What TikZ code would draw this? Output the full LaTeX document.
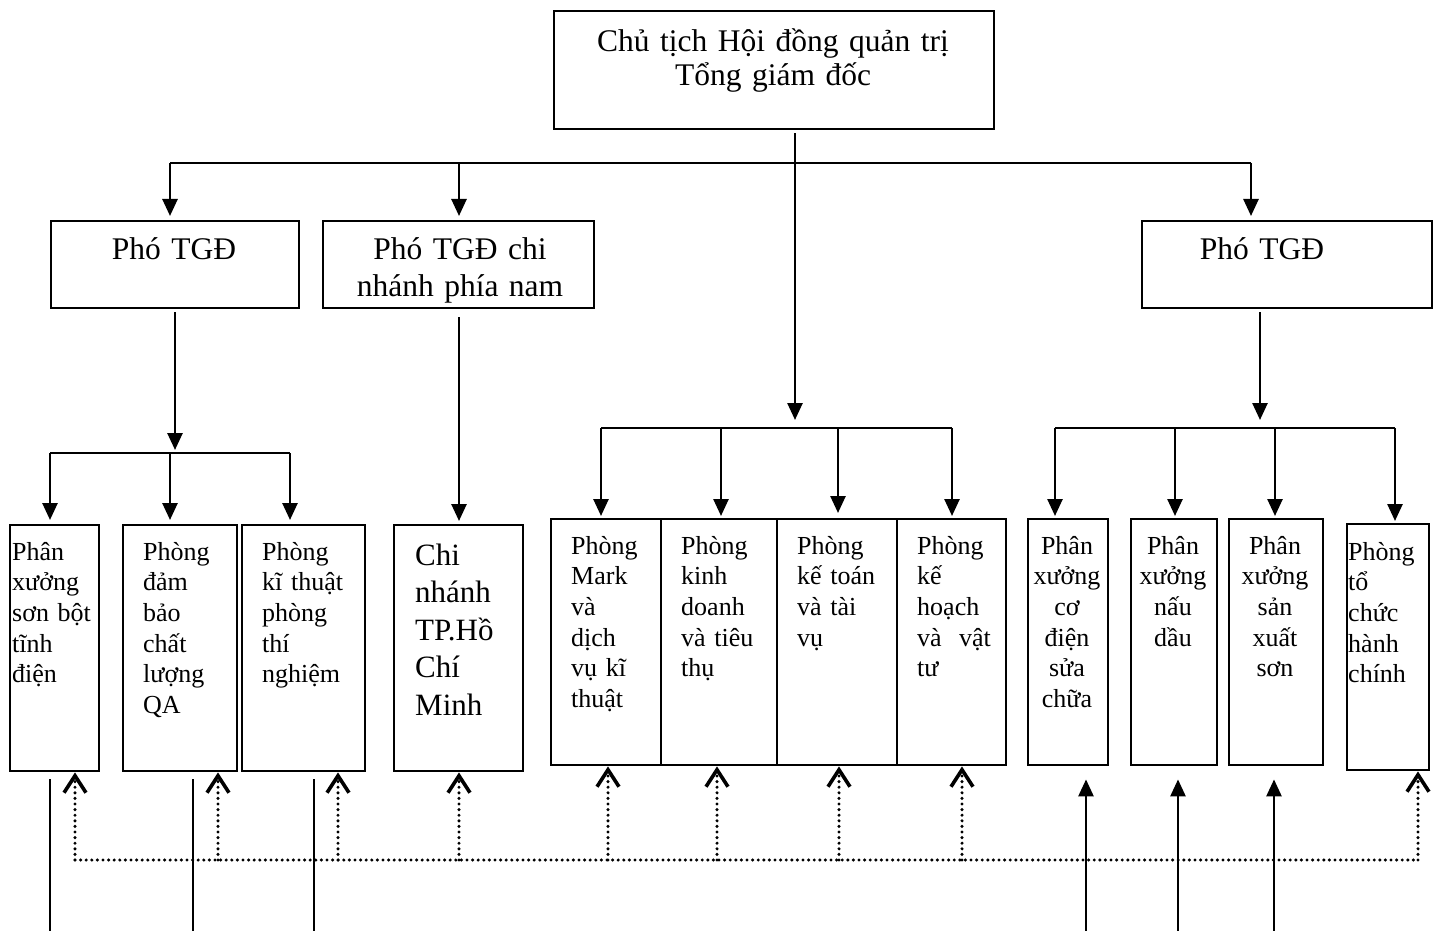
\documentclass[tikz,border=0pt]{standalone}
\usepackage{fontspec}
\setmainfont{Liberation Serif}
\usetikzlibrary{arrows.meta}
\begin{document}
\begin{tikzpicture}[x=1pt,y=-1pt,
  box/.style={draw, line width=2.4pt, inner sep=0pt, anchor=north west},
  conn/.style={line width=2.6pt},
  arrdown/.style={conn, -{Triangle[length=17pt,width=15pt]}},
  dotline/.style={line width=3.4pt, line cap=round, dash pattern=on 0pt off 5.6pt},
  dotarrow/.style={dotline, -{Straight Barb[length=17pt,width=22pt,line width=3.6pt]}},
  big/.style={font=\fontsize{31.5}{34}\selectfont},
  mid/.style={font=\fontsize{31}{37.5}\selectfont},
  small/.style={font=\fontsize{26}{30.7}\selectfont},
  txtl/.style={inner sep=0pt, text width=#1, align=left, anchor=base west},
  txtc/.style={inner sep=0pt, text width=#1, align=center, anchor=base},
]
\useasboundingbox[fill=white] (0,0) rectangle (1436,931);

% ---- top level ----
\node[box, minimum width=440pt, minimum height=118pt] (top) at (553,10) {};
\node[txtc=440pt, big] (ttop) at (773,52) {Chủ tịch Hội đồng quản trị\\Tổng giám đốc};

% ---- deputies ----
\node[box, minimum width=248pt, minimum height=87pt] (pL) at (50,220) {};
\node[txtc=248pt, big] (tpL) at (174,259) {Phó TGĐ};
\node[box, minimum width=271pt, minimum height=87pt] (pM) at (322,220) {};
\node[txtc=271pt, font=\fontsize{31.5}{37}\selectfont] (tpM) at (460,259) {Phó TGĐ chi\\nhánh phía nam};
\node[box, minimum width=290pt, minimum height=87pt] (pR) at (1141,220) {};
\node[txtc=290pt, big] (tpR) at (1262,259) {Phó TGĐ};

% ---- departments ----
\node[box, minimum width=89pt,  minimum height=246pt] (b1) at (9,524) {};
\node[box, minimum width=114pt, minimum height=246pt] (b2) at (122,524) {};
\node[box, minimum width=123pt, minimum height=246pt] (b3) at (241,524) {};
\node[box, minimum width=129pt, minimum height=246pt] (b4) at (393,524) {};
\node[box, minimum width=110pt, minimum height=246pt] (b5) at (550,518) {};
\node[box, minimum width=116pt, minimum height=246pt] (b6) at (660,518) {};
\node[box, minimum width=120pt, minimum height=246pt] (b7) at (776,518) {};
\node[box, minimum width=109pt, minimum height=246pt] (b8) at (896,518) {};
\node[box, minimum width=80pt,  minimum height=246pt] (b9) at (1027,518) {};
\node[box, minimum width=86pt,  minimum height=246pt] (b10) at (1130,518) {};
\node[box, minimum width=94pt,  minimum height=246pt] (b11) at (1228,518) {};
\node[box, minimum width=82pt,  minimum height=246pt] (b12) at (1346,523) {};

\node[txtl=120pt, small] (t1) at (12,560) {Phân\\xưởng\\sơn bột\\tĩnh\\điện};
\node[txtl=120pt, small] (t2) at (143,560) {Phòng\\đảm\\bảo\\chất\\lượng\\QA};
\node[txtl=120pt, small] (t3) at (262,560) {Phòng\\kĩ thuật\\phòng\\thí\\nghiệm};
\node[txtl=120pt, mid] (t4) at (415,565) {Chi\\nhánh\\TP.Hồ\\Chí\\Minh};
\node[txtl=120pt, small] (t5) at (571,554) {Phòng\\Mark\\và\\dịch\\vụ kĩ\\thuật};
\node[txtl=120pt, small] (t6) at (681,554) {Phòng\\kinh\\doanh\\và tiêu\\thụ};
\node[txtl=120pt, small] (t7) at (797,554) {Phòng\\kế toán\\và tài\\vụ};
\node[txtl=120pt, small] (t8) at (917,554) {Phòng\\kế\\hoạch\\và\ \ vật\\tư};
\node[txtc=100pt, small] (t9) at (1067,554) {Phân\\xưởng\\cơ\\điện\\sửa\\chữa};
\node[txtc=100pt, small] (t10) at (1173,554) {Phân\\xưởng\\nấu\\dầu};
\node[txtc=100pt, small] (t11) at (1275,554) {Phân\\xưởng\\sản\\xuất\\sơn};
\node[txtl=120pt, small] (t12) at (1348,560) {Phòng\\tổ\\chức\\hành\\chính};

% ---- top distribution bus ----
\coordinate (tb1) at (170,163);
\coordinate (tb2) at (459,163);
\coordinate (tb3) at (1251,163);
\coordinate (tm)  at (795,163);
\coordinate (mbus) at (795,428);
\draw[conn] (tb1) -- (tb3);
\draw[arrdown, shorten >=4pt] (tb1) -- (tb1 |- pL.north);
\draw[arrdown, shorten >=4pt] (tb2) -- (tb2 |- pM.north);
\draw[arrdown, shorten >=4pt] (tb3) -- (tb3 |- pR.north);
\draw[arrdown, shorten >=8pt, shorten <=3pt] (top.south -| tm) -- (mbus);

% ---- left deputy ----
\coordinate (lb)  at (175,453);
\coordinate (lb1) at (50,453);
\coordinate (lb2) at (170,453);
\coordinate (lb3) at (290,453);
\draw[arrdown, shorten <=3pt, shorten >=3pt] (pL.south -| lb) -- (lb);
\draw[conn] (lb1) -- (lb3);
\draw[arrdown, shorten >=4pt] (lb1) -- (lb1 |- b1.north);
\draw[arrdown, shorten >=4pt] (lb2) -- (lb2 |- b2.north);
\draw[arrdown, shorten >=4pt] (lb3) -- (lb3 |- b3.north);

% ---- southern branch ----
\coordinate (mx) at (459,300);
\draw[arrdown, shorten <=8pt, shorten >=3pt] (pM.south -| mx) -- (mx |- b4.north);

% ---- central offices ----
\coordinate (cb1) at (601,428);
\coordinate (cb2) at (721,428);
\coordinate (cb3) at (838,428);
\coordinate (cb4) at (952,428);
\draw[conn] (cb1) -- (cb4);
\draw[arrdown, shorten >=2pt] (cb1) -- (cb1 |- b5.north);
\draw[arrdown, shorten >=2pt] (cb2) -- (cb2 |- b6.north);
\draw[arrdown, shorten >=5pt] (cb3) -- (cb3 |- b7.north);
\draw[arrdown, shorten >=2pt] (cb4) -- (cb4 |- b8.north);

% ---- right deputy ----
\coordinate (rb)  at (1260,428);
\coordinate (rb1) at (1055,428);
\coordinate (rb2) at (1175,428);
\coordinate (rb3) at (1275,428);
\coordinate (rb4) at (1395,428);
\draw[arrdown, shorten <=3pt, shorten >=8pt] (pR.south -| rb) -- (rb);
\draw[conn] (rb1) -- (rb4);
\draw[arrdown, shorten >=2pt] (rb1) -- (rb1 |- b9.north);
\draw[arrdown, shorten >=2pt] (rb2) -- (rb2 |- b10.north);
\draw[arrdown, shorten >=2pt] (rb3) -- (rb3 |- b11.north);
\draw[arrdown, shorten >=2pt] (rb4) -- (rb4 |- b12.north);

% ---- outgoing lines below workshops ----
\coordinate (o1) at (50,931);
\coordinate (o2) at (193,931);
\coordinate (o3) at (314,931);
\draw[conn, shorten <=7pt] (b1.south -| o1) -- (o1);
\draw[conn, shorten <=7pt] (b2.south -| o2) -- (o2);
\draw[conn, shorten <=7pt] (b3.south -| o3) -- (o3);

% ---- incoming lines into production workshops ----
\coordinate (i1) at (1086,931);
\coordinate (i2) at (1178,931);
\coordinate (i3) at (1274,931);
\draw[arrdown, shorten >=13pt] (i1) -- (i1 |- b9.south);
\draw[arrdown, shorten >=13pt] (i2) -- (i2 |- b10.south);
\draw[arrdown, shorten >=13pt] (i3) -- (i3 |- b11.south);

% ---- dotted coordination bus ----
\coordinate (d1) at (75,860);
\coordinate (d2) at (218,860);
\coordinate (d3) at (338,860);
\coordinate (d4) at (459,860);
\coordinate (d5) at (608,860);
\coordinate (d6) at (717,860);
\coordinate (d7) at (839,860);
\coordinate (d8) at (962,860);
\coordinate (d9) at (1418,860);
\draw[dotline] (d1) -- (d9);
\draw[dotarrow] (d1) -- (d1 |- b1.south);
\draw[dotarrow] (d2) -- (d2 |- b2.south);
\draw[dotarrow] (d3) -- (d3 |- b3.south);
\draw[dotarrow] (d4) -- (d4 |- b4.south);
\draw[dotarrow] (d5) -- (d5 |- b5.south);
\draw[dotarrow] (d6) -- (d6 |- b6.south);
\draw[dotarrow] (d7) -- (d7 |- b7.south);
\draw[dotarrow] (d8) -- (d8 |- b8.south);
\draw[dotarrow] (d9) -- (d9 |- b12.south);
\end{tikzpicture}
\end{document}
